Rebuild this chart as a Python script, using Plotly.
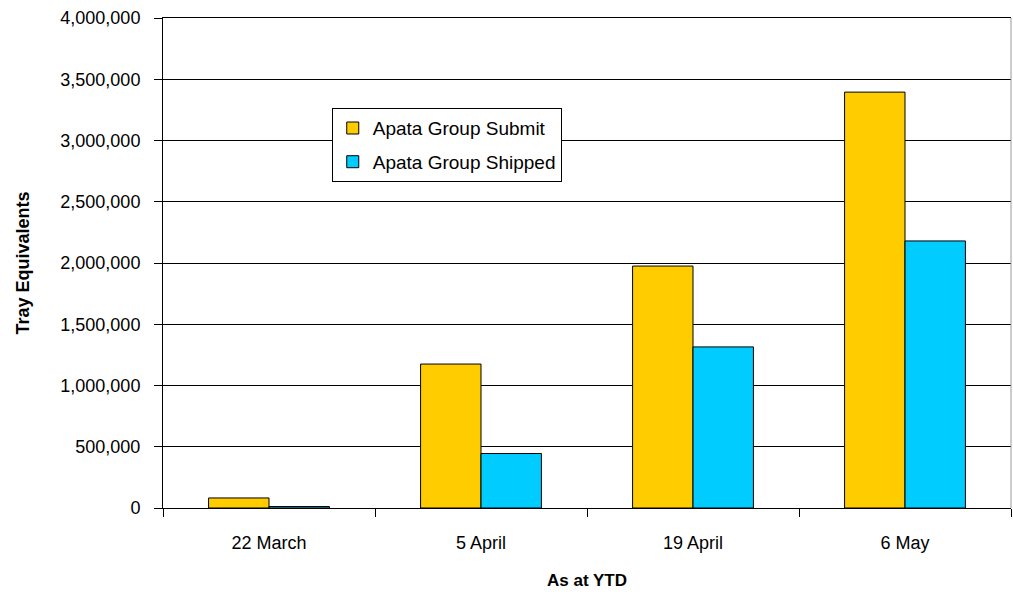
import plotly.graph_objects as go

categories = ["22 March", "5 April", "19 April", "6 May"]
submit = [82000, 1175000, 1975000, 3395000]
shipped = [12000, 445000, 1315000, 2180000]
series_names = ["Apata Group Submit", "Apata Group Shipped"]
y_ticks = [0, 500000, 1000000, 1500000, 2000000, 2500000, 3000000, 3500000, 4000000]

fig = go.Figure()
fig.add_trace(go.Bar(x=categories, y=submit, name=series_names[0], legendgroup="a",
                     marker=dict(color="#FFCC00", line=dict(color="black", width=1))))
fig.add_trace(go.Bar(x=categories, y=shipped, name=series_names[1], legendgroup="b",
                     marker=dict(color="#00CCFF", line=dict(color="black", width=1))))

font_fam = "Liberation Sans, Arial, sans-serif"
fig.update_layout(
    width=1013, height=594,
    margin=dict(l=163, r=2, t=18, b=86),
    paper_bgcolor="white", plot_bgcolor="white",
    barmode="group", bargap=0.43, bargroupgap=0,
    font=dict(family=font_fam, size=18, color="black"),
    legend=dict(x=0.199, y=0.816, xanchor="left", yanchor="top",
                bgcolor="white", bordercolor="black", borderwidth=1,
                font=dict(size=19), tracegroupgap=6, traceorder="grouped",
                itemwidth=30),
    separators=".,",
)
fig.update_xaxes(
    type="category", tickson="boundaries", ticks="outside", ticklen=8,
    tickcolor="black", showline=True, linecolor="black", linewidth=1, mirror=True,
    showgrid=False, tickfont=dict(size=18), ticklabelstandoff=18,
    title=dict(text="<b>As at YTD</b>", font=dict(size=17), standoff=22),
)
fig.update_yaxes(
    range=[0, 4000000], tickvals=y_ticks, tickformat=",d",
    ticks="outside", ticklen=8, tickcolor="black",
    showline=True, linecolor="black", linewidth=1,
    showgrid=True, gridcolor="black", gridwidth=1, zeroline=False,
    tickfont=dict(size=18), ticklabelstandoff=10,
    title=dict(text="<b>Tray Equivalents</b>", font=dict(size=18), standoff=26),
)
fig.add_shape(type="line", xref="paper", yref="paper", x0=1, x1=1, y0=0, y1=1,
              line=dict(color="#999999", width=1))
fig.write_html("out.html", config={"displayModeBar": False},
               post_script="document.body.style.margin='0';")
